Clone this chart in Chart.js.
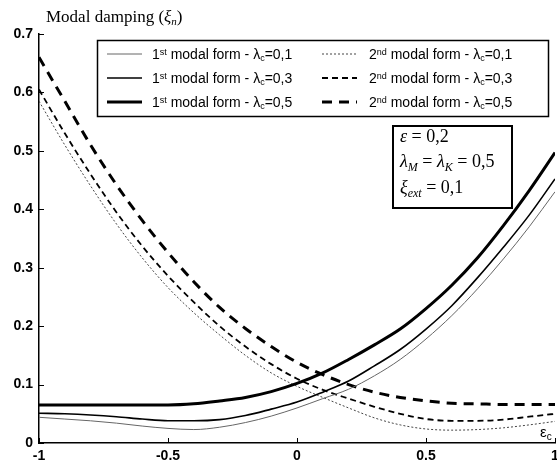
<!DOCTYPE html>
<html lang="en">
<head>
<meta charset="UTF-8">
<title>Modal damping</title>
<script src="https://cdn.jsdelivr.net/npm/chart.js"></script>
<style>
  html, body { margin: 0; padding: 0; background: #fff; }
  #wrap { width: 557px; height: 466px; }
</style>
</head>
<body>
<div id="wrap"><canvas id="chart" width="557" height="466"></canvas></div>
<script>
// eccentricity axis (εc)
const xValues = [-1, -0.9, -0.8, -0.7, -0.6, -0.5, -0.4, -0.3, -0.2, -0.1, 0, 0.1, 0.2, 0.3, 0.4, 0.5, 0.6, 0.7, 0.8, 0.9, 1];

// 1st modal form
const mode1_l01 = [0.044, 0.041, 0.038, 0.034, 0.029, 0.025, 0.023, 0.027, 0.035, 0.046, 0.060, 0.076, 0.092, 0.115, 0.143, 0.178, 0.218, 0.264, 0.315, 0.370, 0.430];
const mode1_l03 = [0.051, 0.050, 0.048, 0.045, 0.041, 0.038, 0.038, 0.040, 0.047, 0.058, 0.070, 0.087, 0.106, 0.132, 0.160, 0.195, 0.235, 0.283, 0.335, 0.390, 0.452];
const mode1_l05 = [0.065, 0.065, 0.065, 0.065, 0.065, 0.065, 0.067, 0.072, 0.078, 0.088, 0.102, 0.120, 0.143, 0.168, 0.195, 0.230, 0.270, 0.317, 0.372, 0.432, 0.497];
// 2nd modal form
const mode2_l01 = [0.585, 0.510, 0.440, 0.375, 0.317, 0.266, 0.223, 0.185, 0.150, 0.120, 0.097, 0.078, 0.060, 0.043, 0.031, 0.024, 0.022, 0.023, 0.026, 0.031, 0.037];
const mode2_l03 = [0.605, 0.530, 0.460, 0.395, 0.337, 0.286, 0.241, 0.200, 0.165, 0.135, 0.110, 0.091, 0.076, 0.062, 0.050, 0.041, 0.038, 0.038, 0.040, 0.045, 0.050];
const mode2_l05 = [0.660, 0.585, 0.510, 0.442, 0.381, 0.326, 0.276, 0.232, 0.196, 0.165, 0.138, 0.117, 0.100, 0.087, 0.078, 0.072, 0.068, 0.067, 0.066, 0.066, 0.066];

const yTicks = [0, 0.1, 0.2, 0.3, 0.4, 0.5, 0.6, 0.7];
const xTicks = [-1, -0.5, 0, 0.5, 1];
const legendValues = ['0,1', '0,3', '0,5'];

function pts(arr) {
    return arr.map((v, i) => ({ x: xValues[i], y: v }));
}

const seriesStyle = [
    { data: mode1_l01, borderColor: '#666', borderWidth: 1, borderDash: [] },
    { data: mode1_l03, borderColor: '#000', borderWidth: 1.6, borderDash: [] },
    { data: mode1_l05, borderColor: '#000', borderWidth: 3, borderDash: [] },
    { data: mode2_l01, borderColor: '#444', borderWidth: 1, borderDash: [2, 2] },
    { data: mode2_l03, borderColor: '#000', borderWidth: 1.8, borderDash: [6, 4] },
    { data: mode2_l05, borderColor: '#000', borderWidth: 3, borderDash: [10, 7] }
];

const datasets = seriesStyle.map(s => ({
    data: pts(s.data),
    borderColor: s.borderColor,
    borderWidth: s.borderWidth,
    borderDash: s.borderDash,
    pointRadius: 0,
    fill: false,
    tension: 0.4,
    cubicInterpolationMode: 'monotone'
}));

// draws text pieces: [text, font, dy]
function drawPieces(ctx, x, y, pieces) {
    ctx.textAlign = 'left';
    ctx.textBaseline = 'alphabetic';
    pieces.forEach(p => {
        ctx.font = p[1];
        ctx.fillText(p[0], x, y + (p[2] || 0));
        x += ctx.measureText(p[0]).width;
    });
}

const decor = {
    id: 'decor',
    afterDraw(chart) {
        const ctx = chart.ctx;
        const xs = chart.scales.x, ys = chart.scales.y;
        ctx.save();
        ctx.strokeStyle = '#000';
        ctx.lineWidth = 1;
        // inward ticks
        yTicks.forEach(v => {
            const y = Math.round(ys.getPixelForValue(v)) + 0.5;
            ctx.beginPath(); ctx.moveTo(xs.left, y); ctx.lineTo(xs.left + 5, y); ctx.stroke();
        });
        xTicks.forEach(v => {
            const x = Math.round(xs.getPixelForValue(v)) + 0.5;
            ctx.beginPath(); ctx.moveTo(x, ys.bottom); ctx.lineTo(x, ys.bottom - 5); ctx.stroke();
        });

        // legend box
        ctx.fillStyle = '#fff';
        ctx.fillRect(97, 40, 452, 77);
        ctx.lineWidth = 1.5;
        ctx.strokeRect(97.5, 40.5, 451, 76);
        const rows = [54, 78, 102];
        const sans = '14px "Liberation Sans", Arial, sans-serif';
        const small = '9px "Liberation Sans", Arial, sans-serif';
        seriesStyle.forEach((s, i) => {
            const col = i < 3 ? 0 : 1;
            const row = i % 3;
            const lx = col === 0 ? 107 : 322;
            const y = rows[row];
            ctx.save();
            ctx.strokeStyle = s.borderColor;
            ctx.lineWidth = s.borderWidth;
            ctx.setLineDash(s.borderDash);
            ctx.beginPath(); ctx.moveTo(lx, y); ctx.lineTo(lx + 35, y); ctx.stroke();
            ctx.restore();
            ctx.fillStyle = '#000';
            drawPieces(ctx, lx + (col === 0 ? 45 : 47), y + 5, [
                [col === 0 ? '1' : '2', sans],
                [col === 0 ? 'st' : 'nd', small, -4],
                [' modal form - λ', sans],
                ['c', small, 2],
                ['=' + legendValues[row], sans]
            ]);
        });

        // parameter box
        ctx.fillStyle = '#fff';
        ctx.fillRect(393, 126, 119, 82);
        ctx.lineWidth = 2;
        ctx.strokeRect(393, 126, 119, 82);
        ctx.fillStyle = '#000';
        const serif = '18px "Liberation Serif", "Times New Roman", serif';
        const iser = 'italic 18px "Liberation Serif", "Times New Roman", serif';
        const isub = 'italic 12px "Liberation Serif", "Times New Roman", serif';
        drawPieces(ctx, 400, 142, [['ε', iser], [' = 0,2', serif]]);
        drawPieces(ctx, 400, 167, [['λ', iser], ['M', isub, 4], [' = ', serif], ['λ', iser], ['K', isub, 4], [' = 0,5', serif]]);
        drawPieces(ctx, 400, 193, [['ξ', iser], ['ext', isub, 4], [' = 0,1', serif]]);

        // axis titles
        drawPieces(ctx, 46, 22, [
            ['Modal damping (', '17px "Liberation Serif", "Times New Roman", serif'],
            ['ξ', 'italic 17px "Liberation Serif", serif'],
            ['n', 'italic 11px "Liberation Serif", serif', 3],
            [')', '17px "Liberation Serif", "Times New Roman", serif']
        ]);
        drawPieces(ctx, 540, 437, [
            ['ε', '15px "Liberation Sans", Arial, sans-serif'],
            ['c', '10px "Liberation Sans", Arial, sans-serif', 3]
        ]);
        ctx.restore();
    }
};

new Chart(document.getElementById('chart'), {
    type: 'line',
    data: { datasets: datasets },
    options: {
        responsive: false,
        animation: false,
        events: [],
        layout: { autoPadding: false, padding: { top: 34, right: 2, left: 0, bottom: 0 } },
        plugins: { legend: { display: false }, tooltip: { enabled: false } },
        scales: {
            x: {
                type: 'linear',
                min: -1,
                max: 1,
                afterFit: s => { s.height = 23; s.paddingLeft = 0; s.paddingRight = 0; },
                afterBuildTicks: s => { s.ticks = xTicks.map(v => ({ value: v })); },
                grid: { display: false, drawTicks: false },
                border: { display: true, color: '#000', width: 1.5 },
                ticks: {
                    color: '#000',
                    padding: 5,
                    font: { family: '"Liberation Sans", Arial, sans-serif', size: 14, weight: 'bold' },
                    callback: v => String(v)
                }
            },
            y: {
                min: 0,
                max: 0.7,
                afterFit: s => { s.width = 39; s.paddingTop = 0; s.paddingBottom = 0; },
                afterBuildTicks: s => { s.ticks = yTicks.map(v => ({ value: v })); },
                grid: { display: false, drawTicks: false },
                border: { display: true, color: '#000', width: 1.5 },
                ticks: {
                    color: '#000',
                    padding: 6,
                    font: { family: '"Liberation Sans", Arial, sans-serif', size: 14, weight: 'bold' },
                    callback: v => String(Math.round(v * 10) / 10)
                }
            }
        }
    },
    plugins: [decor]
});
</script>
</body>
</html>
